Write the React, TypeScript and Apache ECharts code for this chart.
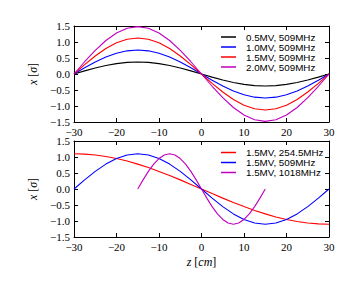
import React, { useEffect, useRef } from 'react';
import * as echarts from 'echarts';

const Z_FULL = [-30, -27.5, -25, -22.5, -20, -17.5, -15, -12.5, -10, -7.5, -5, -2.5, 0, 2.5, 5, 7.5, 10, 12.5, 15, 17.5, 20, 22.5, 25, 27.5, 30];
const Z_HALF = [-15, -13.75, -12.5, -11.25, -10, -8.75, -7.5, -6.25, -5, -3.75, -2.5, -1.25, 0, 1.25, 2.5, 3.75, 5, 6.25, 7.5, 8.75, 10, 11.25, 12.5, 13.75, 15];

const TOP_05MV = [0, 0.097, 0.188, 0.265, 0.325, 0.362, 0.375, 0.362, 0.325, 0.265, 0.188, 0.097, 0, -0.097, -0.188, -0.265, -0.325, -0.362, -0.375, -0.362, -0.325, -0.265, -0.188, -0.097, 0];
const TOP_10MV = [0, 0.194, 0.375, 0.53, 0.65, 0.724, 0.75, 0.724, 0.65, 0.53, 0.375, 0.194, 0, -0.194, -0.375, -0.53, -0.65, -0.724, -0.75, -0.724, -0.65, -0.53, -0.375, -0.194, 0];
const TOP_15MV = [0, 0.291, 0.563, 0.795, 0.974, 1.087, 1.125, 1.087, 0.974, 0.795, 0.563, 0.291, 0, -0.291, -0.563, -0.795, -0.974, -1.087, -1.125, -1.087, -0.974, -0.795, -0.563, -0.291, 0];
const TOP_20MV = [0, 0.383, 0.74, 1.047, 1.282, 1.43, 1.48, 1.43, 1.282, 1.047, 0.74, 0.383, 0, -0.383, -0.74, -1.047, -1.282, -1.43, -1.48, -1.43, -1.282, -1.047, -0.74, -0.383, 0];

const BOT_254 = [1.1, 1.091, 1.063, 1.016, 0.953, 0.873, 0.778, 0.669, 0.55, 0.421, 0.285, 0.144, 0, -0.144, -0.285, -0.421, -0.55, -0.669, -0.778, -0.873, -0.953, -1.016, -1.063, -1.091, -1.1];
const BOT_509 = [0, 0.285, 0.55, 0.778, 0.953, 1.063, 1.1, 1.063, 0.953, 0.778, 0.55, 0.285, 0, -0.285, -0.55, -0.778, -0.953, -1.063, -1.1, -1.063, -0.953, -0.778, -0.55, -0.285, 0];
const BOT_1018 = [0, 0.285, 0.55, 0.778, 0.953, 1.063, 1.1, 1.063, 0.953, 0.778, 0.55, 0.285, 0, -0.285, -0.55, -0.778, -0.953, -1.063, -1.1, -1.063, -0.953, -0.778, -0.55, -0.285, 0];

const TOP_NAMES = ['0.5MV, 509MHz', '1.0MV, 509MHz', '1.5MV, 509MHz', '2.0MV, 509MHz'];
const BOT_NAMES = ['1.5MV, 254.5MHz', '1.5MV, 509MHz ', '1.5MV, 1018MHz'];
const TOP_COLORS = ['#000000', '#0000ff', '#ff0000', '#bf00bf'];
const BOT_COLORS = ['#ff0000', '#0000ff', '#bf00bf'];

const SERIF = "'Liberation Serif', serif";
const SANS = "'Liberation Sans', Arial, sans-serif";

const pairs = (xs: number[], ys: number[]) => xs.map((x, i) => [x, ys[i]]);

const tickStyle = { show: true, inside: true, length: 4, lineStyle: { color: '#000', width: 1 } };
const lineAx = { show: true, onZero: false, lineStyle: { color: '#000', width: 1 } };
const labelStyle = { fontFamily: SERIF, fontSize: 11, color: '#000' };

const mkX = (gridIndex: number, position: string, showLabel: boolean, name?: string) => ({
  type: 'value',
  gridIndex,
  position,
  min: -30,
  max: 30,
  interval: 10,
  axisLine: lineAx,
  axisTick: tickStyle,
  splitLine: { show: false },
  axisLabel: {
    show: showLabel,
    margin: 4,
    ...labelStyle,
    formatter: (v: number) => String(v).replace('-', '\u2212'),
  },
  name: name,
  nameLocation: 'middle',
  nameGap: 19,
  nameTextStyle: {
    fontFamily: SERIF,
    fontSize: 12,
    color: '#000',
    verticalAlign: 'top',
    rich: { i: { fontFamily: SERIF, fontSize: 12, fontStyle: 'italic', color: '#000' } },
  },
});

const mkY = (gridIndex: number, position: string, showLabel: boolean, name?: string) => ({
  type: 'value',
  gridIndex,
  position,
  min: -1.5,
  max: 1.5,
  interval: 0.5,
  axisLine: lineAx,
  axisTick: tickStyle,
  splitLine: { show: false },
  axisLabel: {
    show: showLabel,
    margin: 4,
    ...labelStyle,
    formatter: (v: number) => v.toFixed(1).replace('-', '\u2212'),
  },
  name: name,
  nameLocation: 'middle',
  nameGap: 34,
  nameRotate: 90,
  nameTextStyle: {
    fontFamily: SERIF,
    fontSize: 12,
    color: '#000',
    rich: { i: { fontFamily: SERIF, fontSize: 12, fontStyle: 'italic', color: '#000' } },
  },
});

const mkSeries = (name: string, color: string, xs: number[], ys: number[], xi: number, yi: number) => ({
  name,
  type: 'line',
  xAxisIndex: xi,
  yAxisIndex: yi,
  data: pairs(xs, ys),
  showSymbol: false,
  symbol: 'none',
  lineStyle: { color, width: 1.1 },
  itemStyle: { color },
  z: 2,
});

const legendBase = {
  orient: 'vertical',
  left: 216,
  itemWidth: 15,
  itemHeight: 1.5,
  itemGap: 0,
  icon: 'rect',
  selectedMode: false,
  textStyle: { fontFamily: SANS, fontSize: 9.8, color: '#000', lineHeight: 9.6, padding: [0, 0, 0, 5] },
};

export default function App() {
  const ref = useRef<HTMLDivElement>(null);
  useEffect(() => {
    const chart = echarts.init(ref.current!, null, { renderer: 'svg' });
    const option: any = {
      animation: false,
      backgroundColor: '#ffffff',
      grid: [
        { left: 74, top: 26, width: 255, height: 96, show: false },
        { left: 74, top: 141, width: 255, height: 96, show: false },
      ],
      xAxis: [
        mkX(0, 'bottom', true),
        mkX(0, 'top', false),
        mkX(1, 'bottom', true, '{i|z} [{i|cm}]'),
        mkX(1, 'top', false),
      ],
      yAxis: [
        mkY(0, 'left', true, '{i|x} [{i|\u03c3}]'),
        mkY(0, 'right', false),
        mkY(1, 'left', true, '{i|x} [{i|\u03c3}]'),
        mkY(1, 'right', false),
      ],
      legend: [
        { ...legendBase, top: 27, data: TOP_NAMES },
        { ...legendBase, top: 142.5, data: BOT_NAMES },
      ],
      series: [
        mkSeries(TOP_NAMES[0], TOP_COLORS[0], Z_FULL, TOP_05MV, 0, 0),
        mkSeries(TOP_NAMES[1], TOP_COLORS[1], Z_FULL, TOP_10MV, 0, 0),
        mkSeries(TOP_NAMES[2], TOP_COLORS[2], Z_FULL, TOP_15MV, 0, 0),
        mkSeries(TOP_NAMES[3], TOP_COLORS[3], Z_FULL, TOP_20MV, 0, 0),
        mkSeries(BOT_NAMES[0], BOT_COLORS[0], Z_FULL, BOT_254, 2, 2),
        mkSeries(BOT_NAMES[1], BOT_COLORS[1], Z_FULL, BOT_509, 2, 2),
        mkSeries(BOT_NAMES[2], BOT_COLORS[2], Z_HALF, BOT_1018, 2, 2),
      ],
    };
    chart.setOption(option);
    return () => chart.dispose();
  }, []);
  return (
    <div
      ref={ref}
      style={{ position: 'fixed', left: 0, top: 0, width: 363, height: 290, background: '#fff' }}
    />
  );
}
